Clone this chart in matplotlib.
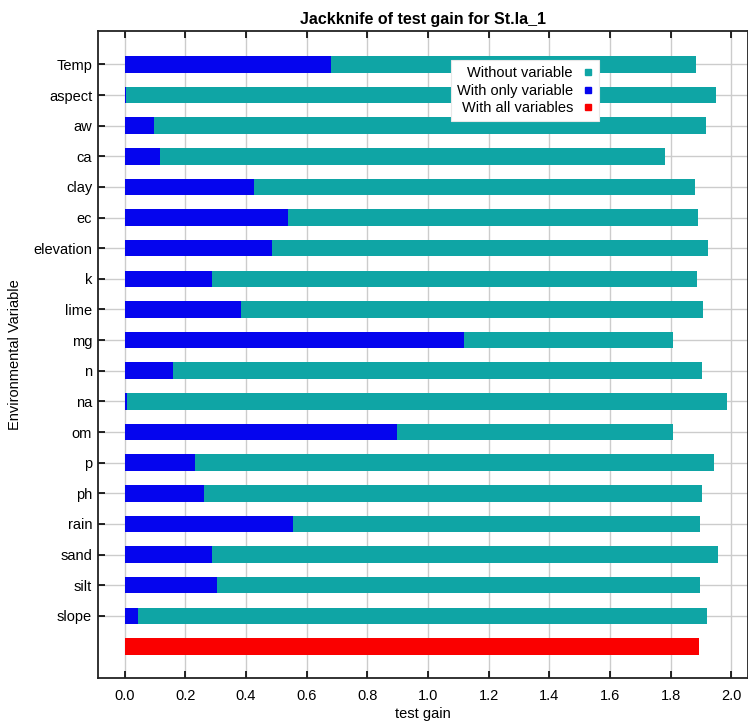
import numpy as np
import matplotlib
matplotlib.use("Agg")
import matplotlib.pyplot as plt
from matplotlib.lines import Line2D

plt.rcParams['font.family'] = ['Liberation Sans', 'DejaVu Sans']

# variables, top to bottom
variables = ['Temp', 'aspect', 'aw', 'ca', 'clay', 'ec', 'elevation', 'k', 'lime',
             'mg', 'n', 'na', 'om', 'p', 'ph', 'rain', 'sand', 'silt', 'slope']
# test gain without each variable
without_var = [1.883, 1.949, 1.915, 1.780, 1.880, 1.889, 1.923, 1.885, 1.907,
               1.806, 1.902, 1.985, 1.806, 1.941, 1.902, 1.898, 1.955, 1.898, 1.919]
# test gain with only that variable
only_var = [0.680, 0.003, 0.095, 0.116, 0.426, 0.538, 0.487, 0.288, 0.383,
            1.119, 0.159, 0.008, 0.898, 0.232, 0.262, 0.555, 0.289, 0.305, 0.043]
all_vars = 1.892

teal = '#0fa5a5'
blue = '#0505ee'
red = '#fa0000'

n = len(variables)
ypos = np.arange(n, 0, -1)  # Temp at top, slope at 1, all vars at 0

fig = plt.figure(figsize=(7.48, 7.27), dpi=100)
ax = fig.add_axes([97.7/748, 1 - 678/727, (747.5 - 97.7)/748, (678 - 31)/727])

bh = 0.54
ax.barh(ypos, without_var, height=bh, color=teal, zorder=3)
ax.barh(ypos, only_var, height=bh, color=blue, zorder=4)
ax.barh([0], [all_vars], height=bh, color=red, zorder=4)

ax.set_xlim(-0.089, 2.053)
ax.set_ylim(-1.03, n + 1.09)
ax.set_xticks(np.arange(0, 2.01, 0.2))
ax.set_xticklabels(['%.1f' % v for v in np.arange(0, 2.01, 0.2)], fontsize=10.5)
ax.set_yticks(ypos)
ax.set_yticklabels(variables, fontsize=10.5)

ax.tick_params(axis='x', direction='in', top=True, length=5, width=1.2, pad=8)
ax.tick_params(axis='y', direction='in', length=5, width=1.2, pad=4)
ax.grid(True, color='#cccccc', linewidth=1, zorder=0)
ax.set_axisbelow(True)
for s in ax.spines.values():
    s.set_linewidth(1.3)
    s.set_color('#222222')

ax.set_title('Jackknife of test gain for St.la_1', fontsize=11.5, fontweight='bold', pad=5)
ax.set_xlabel('test gain', fontsize=10.5, labelpad=3)
ax.set_ylabel('Environmental Variable', fontsize=10.5, labelpad=8)

handles = [Line2D([], [], linestyle='none', marker='s', markersize=5, color=teal),
           Line2D([], [], linestyle='none', marker='s', markersize=5, color=blue),
           Line2D([], [], linestyle='none', marker='s', markersize=5, color=red)]
leg = ax.legend(handles, ['Without variable', 'With only variable', 'With all variables'],
                loc='upper right', bbox_to_anchor=(0.783, 0.966), markerfirst=False,
                fontsize=10.5, frameon=True, fancybox=False, framealpha=1,
                handlelength=0.8, handletextpad=0.6, borderpad=0.4, labelspacing=0.25)
leg.get_frame().set_edgecolor('#e8e8e8')
leg.get_frame().set_linewidth(0.8)
for t in leg.get_texts():
    t.set_ha('right')
leg.set_zorder(10)

fig.savefig('out.png', dpi=100)
